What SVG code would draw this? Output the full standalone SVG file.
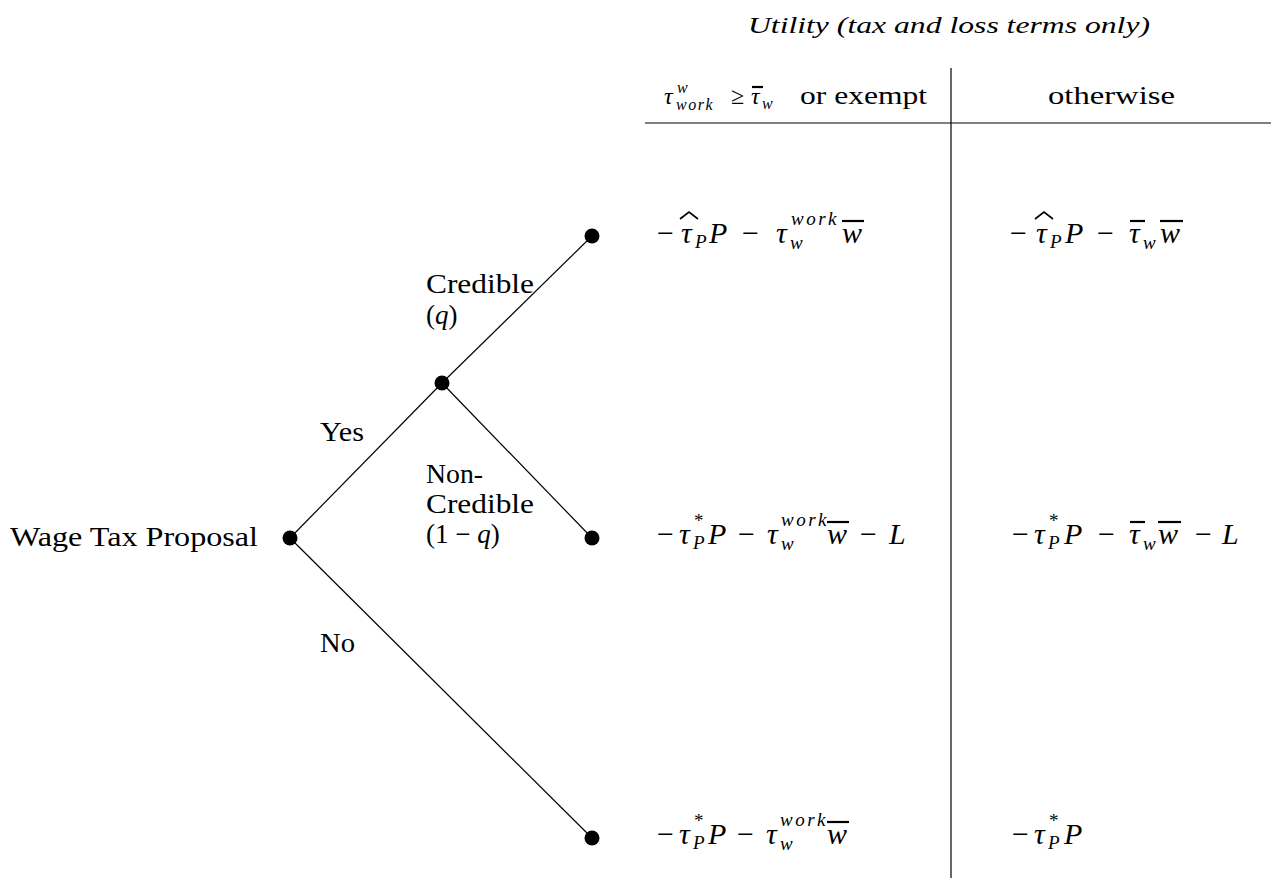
<svg xmlns="http://www.w3.org/2000/svg" width="1271" height="878" viewBox="0 0 1271 878" font-family="'Liberation Serif', 'Times New Roman', 'DejaVu Serif', 'Noto Serif', serif">
<style>
text{font-family:'Liberation Serif','Times New Roman','DejaVu Serif','Noto Serif',serif}
.lbl{font-size:27px;fill:#000}
.m{font-size:30px;font-style:italic;fill:#000}
.h{font-size:24px;font-style:italic;fill:#000}
.n{font-style:normal}
.s{font-size:19px}
.hs{font-size:16px}
.sp{letter-spacing:2.5px}
.ln{stroke:#000;stroke-width:1.2;fill:none}
.bar{stroke:#000;stroke-width:2.2}
.hat{stroke:#000;stroke-width:1.6;fill:none}
.dot{fill:#000}
</style>
<rect width="1271" height="878" fill="#fff"/>

<g id="table">
  <text class="h" x="748" y="33" textLength="402" lengthAdjust="spacingAndGlyphs">Utility (tax and loss terms only)</text>
  <line class="ln" x1="951" y1="68" x2="951" y2="878"/>
  <line class="ln" x1="645" y1="123" x2="1271" y2="123"/>
  <g id="header-col1">
    <text class="h" y="104"><tspan x="664">τ</tspan><tspan class="hs" x="677" y="93">w</tspan><tspan class="hs" x="676" y="110" style="letter-spacing:1.5px">work</tspan><tspan class="n" x="731" y="104">≥</tspan><tspan x="751" y="104">τ</tspan><tspan class="hs" x="762" y="109">w</tspan></text>
    <line class="bar" x1="752" y1="87" x2="763" y2="87"/>
    <text class="lbl" x="800" y="104" style="font-size:25px" textLength="127" lengthAdjust="spacingAndGlyphs">or exempt</text>
  </g>
  <text id="header-col2" class="lbl" x="1048" y="104" style="font-size:26px" textLength="127" lengthAdjust="spacingAndGlyphs">otherwise</text>
</g>

<g id="connectors">
  <line class="ln" x1="290" y1="538" x2="442" y2="383"/>
  <line class="ln" x1="442" y1="383" x2="592" y2="236"/>
  <line class="ln" x1="442" y1="383" x2="592" y2="538"/>
  <line class="ln" x1="290" y1="538" x2="592" y2="838"/>
  <text class="lbl" x="320" y="441" textLength="44" lengthAdjust="spacingAndGlyphs">Yes</text>
  <text class="lbl" x="320" y="652" textLength="35" lengthAdjust="spacingAndGlyphs">No</text>
  <text class="lbl" x="426" y="293" textLength="108" lengthAdjust="spacingAndGlyphs">Credible</text>
  <text class="lbl" x="426" y="324">(<tspan font-style="italic">q</tspan>)</text>
  <text class="lbl" x="426" y="483" textLength="57" lengthAdjust="spacingAndGlyphs">Non-</text>
  <text class="lbl" x="426" y="513" textLength="108" lengthAdjust="spacingAndGlyphs">Credible</text>
  <text class="lbl" x="426" y="543">(1 − <tspan font-style="italic">q</tspan>)</text>
</g>

<g id="root">
  <circle class="dot" cx="290" cy="538" r="7.5"/>
  <text class="lbl" x="10" y="546" textLength="248" lengthAdjust="spacingAndGlyphs">Wage Tax Proposal</text>
</g>

<g id="chance">
  <circle class="dot" cx="442" cy="383" r="7.5"/>
</g>

<g id="leaf-credible">
  <circle class="dot" cx="592" cy="236" r="7.5"/>
  <text class="m" y="243"><tspan class="n" x="657">−</tspan><tspan x="681">τ</tspan><tspan class="s" x="695" y="248">P</tspan><tspan x="709" y="243">P</tspan><tspan class="n" x="742">−</tspan><tspan x="776">τ</tspan><tspan class="s" x="790" y="249">w</tspan><tspan class="s sp" x="791" y="225">work</tspan><tspan x="842" y="243">w</tspan></text>
  <polyline class="hat" points="680,219 689,212 698,219"/>
  <line class="bar" x1="842" y1="221" x2="864" y2="221"/>
  <text class="m" y="243"><tspan class="n" x="1010">−</tspan><tspan x="1036">τ</tspan><tspan class="s" x="1050" y="248">P</tspan><tspan x="1065" y="243">P</tspan><tspan class="n" x="1097">−</tspan><tspan x="1129">τ</tspan><tspan class="s" x="1143" y="249">w</tspan><tspan x="1160" y="243">w</tspan></text>
  <polyline class="hat" points="1035,219 1044,212 1053,219"/>
  <line class="bar" x1="1130" y1="221" x2="1145" y2="221"/>
  <line class="bar" x1="1160" y1="221" x2="1183" y2="221"/>
</g>

<g id="leaf-noncredible">
  <circle class="dot" cx="592" cy="538" r="7.5"/>
  <text class="m" y="544"><tspan class="n" x="657">−</tspan><tspan x="679">τ</tspan><tspan class="s n" x="694" y="527">*</tspan><tspan class="s" x="693" y="549">P</tspan><tspan x="708" y="544">P</tspan><tspan class="n" x="738">−</tspan><tspan x="767">τ</tspan><tspan class="s" x="781" y="550">w</tspan><tspan class="s sp" x="781" y="526">work</tspan><tspan x="827" y="544">w</tspan><tspan class="n" x="860">−</tspan><tspan x="889">L</tspan></text>
  <line class="bar" x1="827" y1="522" x2="849" y2="522"/>
  <text class="m" y="544"><tspan class="n" x="1012">−</tspan><tspan x="1034">τ</tspan><tspan class="s n" x="1049" y="527">*</tspan><tspan class="s" x="1048" y="549">P</tspan><tspan x="1064" y="544">P</tspan><tspan class="n" x="1098">−</tspan><tspan x="1129">τ</tspan><tspan class="s" x="1143" y="550">w</tspan><tspan x="1158" y="544">w</tspan><tspan class="n" x="1195">−</tspan><tspan x="1222">L</tspan></text>
  <line class="bar" x1="1130" y1="522" x2="1145" y2="522"/>
  <line class="bar" x1="1158" y1="522" x2="1181" y2="522"/>
</g>

<g id="leaf-no">
  <circle class="dot" cx="592" cy="838" r="7.5"/>
  <text class="m" y="844"><tspan class="n" x="657">−</tspan><tspan x="679">τ</tspan><tspan class="s n" x="694" y="827">*</tspan><tspan class="s" x="693" y="849">P</tspan><tspan x="708" y="844">P</tspan><tspan class="n" x="737">−</tspan><tspan x="766">τ</tspan><tspan class="s" x="780" y="850">w</tspan><tspan class="s sp" x="780" y="826">work</tspan><tspan x="827" y="844">w</tspan></text>
  <line class="bar" x1="827" y1="822" x2="849" y2="822"/>
  <text class="m" y="844"><tspan class="n" x="1012">−</tspan><tspan x="1034">τ</tspan><tspan class="s n" x="1049" y="827">*</tspan><tspan class="s" x="1048" y="849">P</tspan><tspan x="1064" y="844">P</tspan></text>
</g>
</svg>
